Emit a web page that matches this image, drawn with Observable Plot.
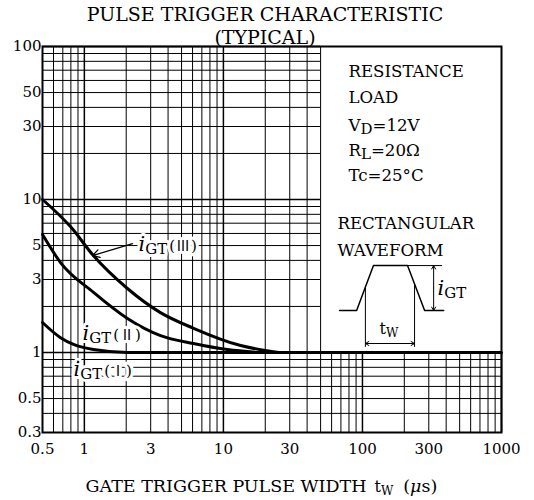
<!DOCTYPE html>
<html><head><meta charset="utf-8">
<script src="https://cdn.jsdelivr.net/npm/d3@7"></script>
<script src="https://cdn.jsdelivr.net/npm/@observablehq/plot@0.6"></script>
<style>
html,body{margin:0;padding:0;background:#fff;}
#chart svg{display:block;}
</style>
</head><body><div id="chart"></div>
<script>
// ---- data ----
const twIII  = [0.5, 0.8, 1.16, 2.04, 3.5, 6.1, 13.3, 25];
const igtIII = [10, 6.6, 4.3, 2.62, 1.83, 1.44, 1.11, 1.0];
const twII   = [0.5, 0.674, 1.164, 2.04, 3.53, 6.1, 10.7, 18];
const igtII  = [5.9, 3.87, 2.47, 1.67, 1.29, 1.145, 1.045, 1.0];
const twI    = [0.5, 0.674, 0.836, 1.164, 2.04, 1000];
const igtI   = [1.57, 1.25, 1.13, 1.045, 1.0, 1.0];

const xTicks = [0.5, 1, 3, 10, 30, 100, 300, 1000];
const yTicks = [0.3, 0.5, 1, 3, 5, 10, 30, 50, 100];

// schematic pulse (in chart units)
const pulseX = [68.5, 90.8, 120, 211, 280, 384];
const pulseY = [1.88, 1.88, 3.70, 3.70, 1.88, 1.88];

const toRows = (xs, ys) => xs.map((x, i) => ({x, y: ys[i]}));

// log grid values
const xGrid = [];
for (const d of [0.1, 1, 10, 100]) for (let k = 1; k <= 9; k++) { const v = +(k * d).toPrecision(3); if (v >= 0.5) xGrid.push(v); }
xGrid.push(1000);
const yGrid = [];
for (const d of [0.1, 1, 10]) for (let k = 1; k <= 9; k++) { const v = +(k * d).toPrecision(3); if (v >= 0.3) yGrid.push(v); }
yGrid.push(100);
const isDecade = v => Math.abs(Math.log10(v) - Math.round(Math.log10(v))) < 1e-9;

const SERIF = "'DejaVu Serif', serif";
const CJK = "'Noto Sans CJK JP', 'DejaVu Sans', sans-serif";
const roman = n => [{t:"i",italic:true,size:21},{t:"GT",size:15,shift:3},{t:"(",size:15,shift:0,dx:2},{t:n,size:14,family:CJK,dx:1},{t:")",size:15,dx:1}];
const RICH = new Map([
  ["VD=12V", [{t:"V"},{t:"D",size:15,shift:3},{t:"=12V",shift:0}]],
  ["RL=20Ω", [{t:"R"},{t:"L",size:15,shift:3},{t:"=20Ω",shift:0}]],
  ["iGT(Ⅲ)", roman("Ⅲ")],
  ["iGT(Ⅱ)", roman("Ⅱ")],
  ["iGT(Ⅰ)", roman("Ⅰ")],
  ["iGT",    [{t:"i",italic:true,size:21},{t:"GT",size:15,shift:3}]],
  ["tW",     [{t:"t",size:16},{t:"W",size:12,shift:3}]],
  ["GATE TRIGGER PULSE WIDTH tW (μs)", [{t:"GATE TRIGGER PULSE WIDTH"},{t:"t",size:16,dx:8},{t:"W",size:12,shift:3},{t:"(",shift:0,dx:10},{t:"μ",italic:true},{t:"s)"}]]
]);

const boxText = (s, dx, dy) => Plot.text([s], {text: d => d, frameAnchor: "top-left", textAnchor: "start", lineAnchor: "bottom", dx, dy, fontSize: 16.6});

const plot = Plot.plot({
  width: 534, height: 500,
  marginLeft: 42, marginRight: 33, marginTop: 46, marginBottom: 68,
  style: {fontFamily: SERIF, fontSize: "15px", color: "#000", background: "#fff", overflow: "visible"},
  x: {type: "log", domain: [0.5, 1000], axis: null},
  y: {type: "log", domain: [0.3, 100], axis: null},
  marks: [
    // grid (blank above 1 for t > 50, where the condition box sits)
    Plot.ruleX(xGrid, {x: d => d, y1: 0.3, y2: d => d > 50 ? 1 : 100, stroke: "#000", strokeWidth: d => isDecade(d) ? 1.5 : 1}),
    Plot.ruleY(yGrid, {y: d => d, x1: 0.5, x2: d => d > 1 ? 50 : 1000, stroke: "#000", strokeWidth: d => isDecade(d) ? 1.5 : 1}),
    Plot.frame({stroke: "#000", strokeWidth: 2}),
    // curves
    Plot.line(toRows(twIII, igtIII), {x: "x", y: "y", curve: "monotone-x", stroke: "#000", strokeWidth: 3}),
    Plot.line(toRows(twII, igtII), {x: "x", y: "y", curve: "monotone-x", stroke: "#000", strokeWidth: 3}),
    Plot.line(toRows(twI, igtI), {x: "x", y: "y", curve: "monotone-x", stroke: "#000", strokeWidth: 3}),
    // curve labels
    Plot.arrow([0], {x1: 2.22, y1: 5.15, x2: 1.145, y2: 4.30, stroke: "#000", strokeWidth: 1.3, headLength: 9}),
    Plot.text(["iGT(Ⅲ)"], {text: d => d, x: 2.45, y: 4.64, textAnchor: "start", lineAnchor: "bottom", stroke: "#fff", strokeWidth: 6, fill: "#000"}),
    Plot.text(["iGT(Ⅱ)"], {text: d => d, x: 0.97, y: 1.198, textAnchor: "start", lineAnchor: "bottom", stroke: "#fff", strokeWidth: 6, fill: "#000"}),
    Plot.text(["iGT(Ⅰ)"], {text: d => d, x: 0.836, y: 0.707, textAnchor: "start", lineAnchor: "bottom", stroke: "#fff", strokeWidth: 6, fill: "#000"}),
    // condition box text
    boxText("RESISTANCE", 306, 30),
    boxText("LOAD", 306, 56),
    boxText("VD=12V", 306, 84),
    boxText("RL=20Ω", 306, 109),
    boxText("Tc=25°C", 306, 134),
    boxText("RECTANGULAR", 295, 182),
    boxText("WAVEFORM", 295, 209),
    // pulse schematic
    Plot.line(toRows(pulseX, pulseY), {x: "x", y: "y", stroke: "#000", strokeWidth: 1.5}),
    Plot.ruleY([3.70], {x1: 211, x2: 377, stroke: "#000", strokeWidth: 1}),
    Plot.arrow([0], {x1: 325, y1: 2.64, x2: 325, y2: 3.70, stroke: "#000", strokeWidth: 1, headLength: 6}),
    Plot.arrow([0], {x1: 325, y1: 2.64, x2: 325, y2: 1.88, stroke: "#000", strokeWidth: 1, headLength: 6}),
    Plot.ruleX([105], {y1: 1.08, y2: 2.67, stroke: "#000", strokeWidth: 1}),
    Plot.ruleX([237], {y1: 1.08, y2: 2.80, stroke: "#000", strokeWidth: 1}),
    Plot.arrow([0], {x1: 158, y1: 1.145, x2: 105, y2: 1.145, stroke: "#000", strokeWidth: 1, headLength: 6}),
    Plot.arrow([0], {x1: 158, y1: 1.145, x2: 237, y2: 1.145, stroke: "#000", strokeWidth: 1, headLength: 6}),
    Plot.text(["iGT"], {text: d => d, x: 347, y: 2.36, textAnchor: "start", lineAnchor: "bottom"}),
    Plot.text(["tW"], {text: d => d, x: 155, y: 1.33, textAnchor: "middle", lineAnchor: "bottom"}),
    // tick labels
    Plot.text(xTicks, {x: d => d, text: d => String(d), frameAnchor: "bottom", lineAnchor: "top", dy: 11, fontSize: 15}),
    Plot.text(yTicks, {y: d => d, text: d => String(d), frameAnchor: "left", textAnchor: "end", dx: -1, fontSize: 15}),
    // titles
    Plot.text(["PULSE TRIGGER CHARACTERISTIC\n(TYPICAL)"], {text: d => d, frameAnchor: "top", lineAnchor: "bottom", lineHeight: 1.16, dx: -7, dy: -3, fontSize: 19}),
    Plot.text(["GATE TRIGGER PULSE WIDTH tW (μs)"], {text: d => d, frameAnchor: "bottom-left", textAnchor: "start", lineAnchor: "bottom", dx: 43, dy: 59, fontSize: 17.5})
  ]
});

// rich text: subscripts / italics via tspans
plot.querySelectorAll("text").forEach(el => {
  const segs = RICH.get(el.textContent);
  if (!segs) return;
  el.textContent = "";
  let cur = 0;
  for (const s of segs) {
    const ts = document.createElementNS("http://www.w3.org/2000/svg", "tspan");
    const shift = s.shift ?? cur;
    if (shift !== cur) ts.setAttribute("dy", shift - cur);
    cur = shift;
    if (s.dx) ts.setAttribute("dx", s.dx);
    if (s.size) ts.setAttribute("font-size", s.size);
    if (s.italic) ts.setAttribute("font-style", "italic");
    if (s.family) ts.setAttribute("font-family", s.family);
    ts.textContent = s.t;
    el.appendChild(ts);
  }
});
plot.querySelectorAll("text").forEach(el => el.setAttribute("paint-order", "stroke"));

document.getElementById("chart").appendChild(plot);
</script>
</body></html>
